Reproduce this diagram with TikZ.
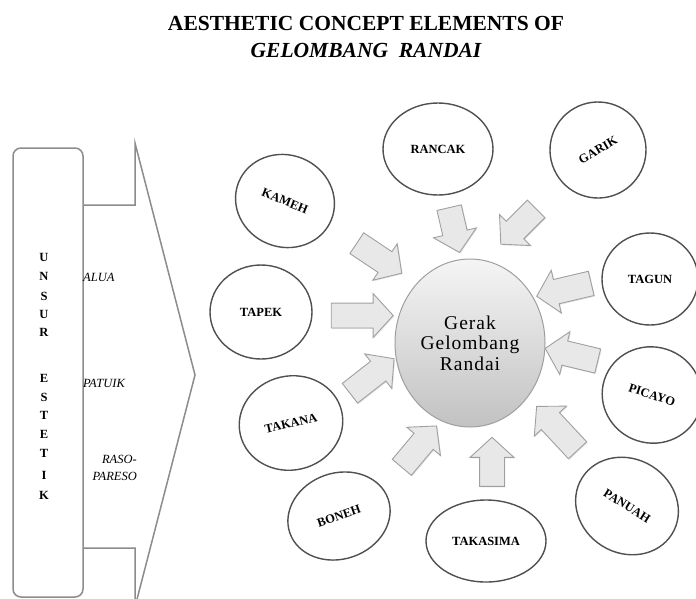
\documentclass[tikz,border=0pt]{standalone}
\usepackage{fontspec}
\setmainfont{Liberation Serif}
\usetikzlibrary{shapes.geometric,shapes.arrows,shadows}
\definecolor{lineg}{HTML}{8C8C8C}
\definecolor{elg}{HTML}{505050}
\definecolor{arrf}{HTML}{E8E8E8}
\definecolor{arrd}{HTML}{A0A0A0}
\begin{document}
\begin{tikzpicture}[x=1pt,y=-1pt,
  el/.style={ellipse, draw=elg, line width=1.4pt, fill=white, inner sep=0pt,
    font=\fontsize{12.5}{14}\selectfont\bfseries},
  barrow/.style={single arrow, draw=arrd, fill=arrf, line width=0.9pt,
    inner sep=12pt, single arrow head extend=9.5pt, single arrow tip angle=95,
    drop shadow={shadow xshift=1pt, shadow yshift=-1pt, opacity=0.2}},
  sidelab/.style={font=\fontsize{12.5}{17}\selectfont\itshape, inner sep=0pt},
  vlet/.style={font=\fontsize{12.5}{13}\selectfont\bfseries, inner sep=0pt},
  titlef/.style={font=\fontsize{21.5}{24}\selectfont\bfseries, inner sep=0pt}]
\useasboundingbox (0,0) rectangle (696,598);
\fill[white] (0,0) rectangle (696,598);
% title
\node[titlef] (t1) at (366,23.5) {AESTHETIC CONCEPT ELEMENTS OF};
\node[titlef, font=\fontsize{21.5}{24}\selectfont\bfseries\itshape] (t2) at (366,50) {GELOMBANG\ \ RANDAI};
% left structure
\draw[lineg, line width=1.5pt] (83,205) -- (135,205) -- (135,143) -- (195,375)
  -- (135,607) -- (135,548) -- (83,548);
\node[draw=lineg, line width=1.5pt, rounded corners=8pt, fill=white,
  minimum width=70pt, minimum height=449pt, inner sep=0pt] (ubox) at (48,372.5) {};
\foreach \l/\y [count=\i] in {U/257,N/276,S/296,U/314,R/332,E/378,S/397,T/415,E/434,T/453,I/475,K/495}
  \node[vlet] (v\i) at (44,\y) {\l};
\node[sidelab, anchor=west] (alua) at (83,277) {ALUA};
\node[sidelab, anchor=west] (patuik) at (83,383) {PATUIK};
\node[sidelab, anchor=east, align=right] (raso) at (137,467.5) {RASO-\\PARESO};
% centre
\node[ellipse, draw=gray!75, line width=1pt, top color=gray!8, bottom color=gray!48,
  minimum width=150pt, minimum height=168pt, inner sep=0pt, align=center,
  font=\fontsize{19.5}{20.5}\selectfont\addfontfeatures{LetterSpace=5}] (c) at (470,343) {Gerak\\Gelombang\\Randai};
% block arrows
\node[barrow, minimum height=54pt, rotate=-33.7] (a1) at (374.5,255) {};
\node[barrow, minimum height=46pt, rotate=-77] (a2) at (453,224.5) {};
\node[barrow, minimum height=50pt, rotate=-135] (a3) at (522.5,222.5) {};
\node[barrow, minimum height=56pt, rotate=-166.7] (a4) at (569.5,288.5) {};
\node[barrow, minimum height=54pt, rotate=166.5] (a5) at (577,356) {};
\node[barrow, minimum height=60pt, rotate=133] (a6) at (561,432.5) {};
\node[barrow, minimum height=49pt, rotate=90] (a7) at (492,467.5) {};
\node[barrow, minimum height=54pt, rotate=50] (a8) at (415.5,451) {};
\node[barrow, minimum height=56pt, rotate=38] (a9) at (367.5,379.5) {};
\node[barrow, minimum height=62pt, rotate=0] (a10) at (356.5,315.5) {};
% outer ellipses
\node[el, minimum width=100pt, minimum height=92pt, rotate=-22] (kameh) at (285,201) {KAMEH};
\node[el, minimum width=110pt, minimum height=92pt] (rancak) at (438,149) {RANCAK};
\node[el, minimum width=96pt, minimum height=96pt, rotate=30] (garik) at (598,150) {GARIK};
\node[el, minimum width=96pt, minimum height=92pt] (tagun) at (650,279) {TAGUN};
\node[el, minimum width=100pt, minimum height=96pt, rotate=-18] (picayo) at (652,395) {PICAYO};
\node[el, minimum width=106pt, minimum height=94pt, rotate=-32] (panuah) at (627,506) {PANUAH};
\node[el, minimum width=120pt, minimum height=82pt] (takasima) at (486,541) {TAKASIMA};
\node[el, minimum width=104pt, minimum height=86pt, rotate=19] (boneh) at (339,516) {BONEH};
\node[el, minimum width=104pt, minimum height=94pt, rotate=13] (takana) at (291,423) {TAKANA};
\node[el, minimum width=102pt, minimum height=94pt] (tapek) at (261,312) {TAPEK};
\end{tikzpicture}
\end{document}
